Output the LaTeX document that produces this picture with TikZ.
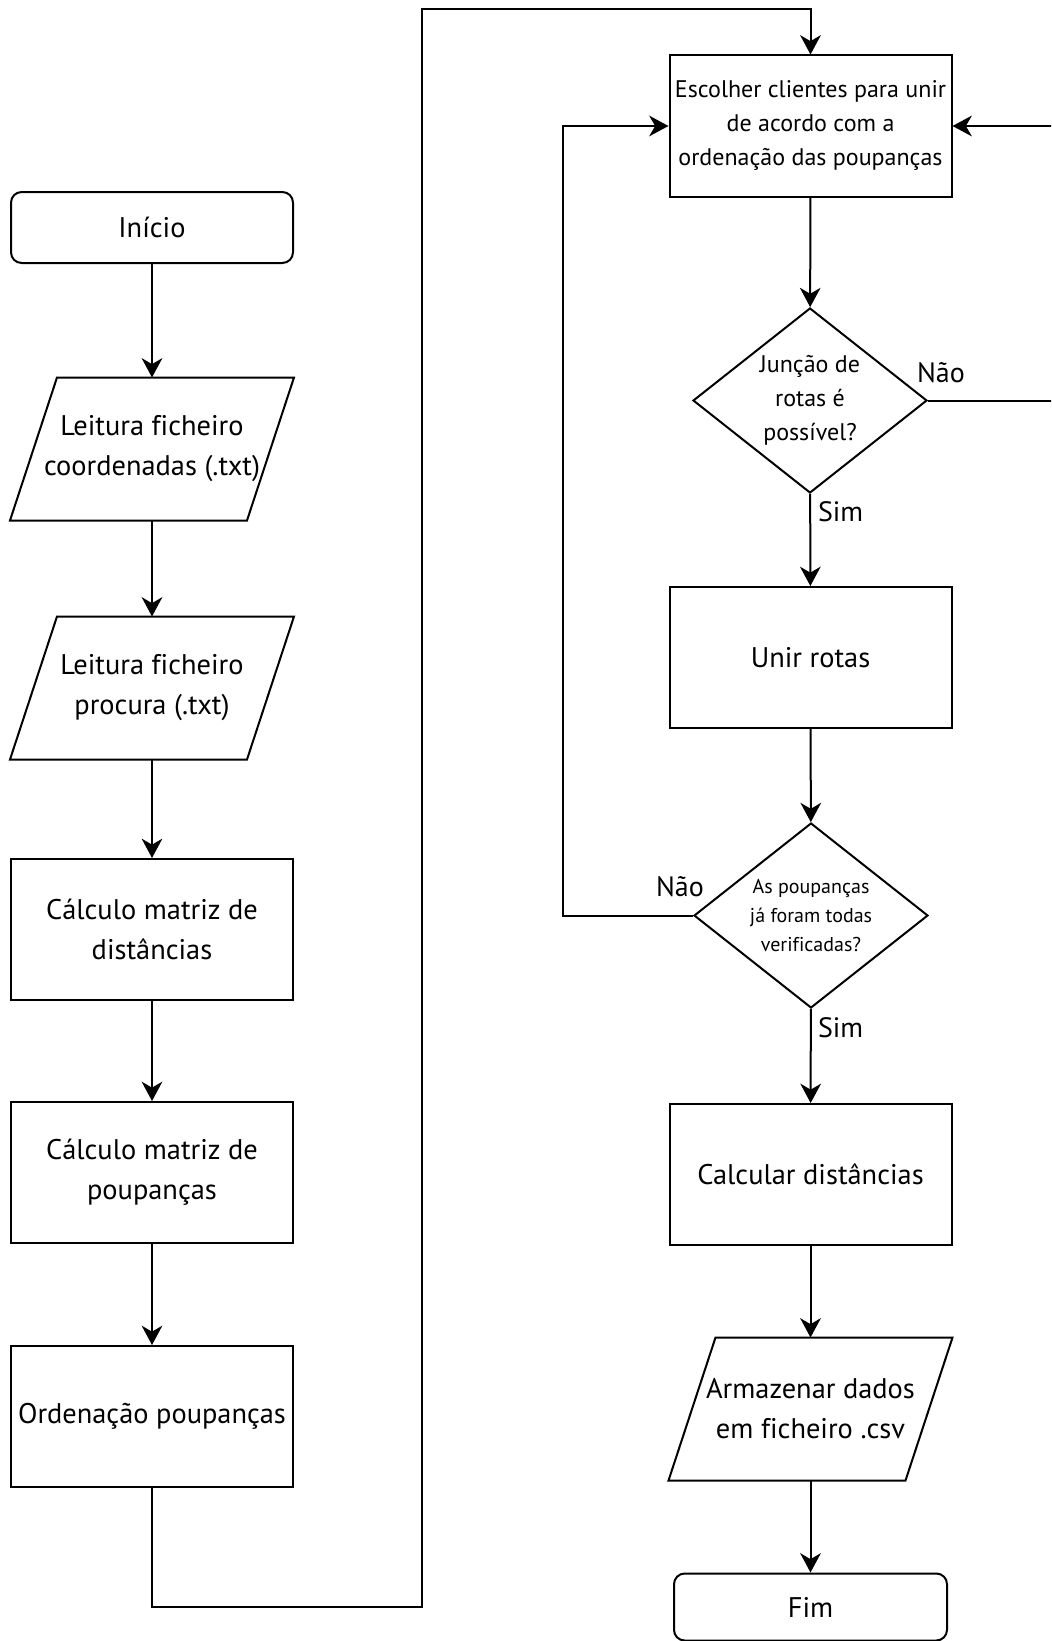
\documentclass[tikz,border=0pt]{standalone}
\usepackage{fontspec}
\setmainfont[Ligatures=NoCommon]{PT Sans}
\usetikzlibrary{shapes.geometric,arrows.meta}

\tikzset{every picture/.style={line width=1.5pt}}
\tikzset{
  procbox/.style={draw, rectangle, minimum width=211.5pt, minimum height=105.75pt, inner sep=1pt, align=center, font=\fontsize{21.3}{30}\selectfont},
  termbox/.style={draw, rectangle, rounded corners=8pt, minimum width=211.5pt, minimum height=53.25pt, align=center, font=\fontsize{21.3}{30}\selectfont},
  iobox/.style={rectangle, minimum width=211.5pt, minimum height=105.75pt, inner sep=0pt, align=center, font=\fontsize{21.3}{30}\selectfont},
  decbox/.style={draw, diamond, aspect=1.26, minimum width=175.5pt, minimum height=138.75pt, inner sep=0pt, align=center},
  answer/.style={font=\fontsize{21}{24}\selectfont, inner sep=0pt},
  flowline/.style={-{Stealth[length=14.5pt,width=15.5pt,inset=4.5pt]}},
}

\begin{document}
\begin{tikzpicture}[x=0.75pt,y=0.75pt,yscale=-1,xscale=1]
\useasboundingbox (0,0) rectangle (1051,1641);
\clip (0,0) rectangle (1051,1641);

%Shape: Rounded Rect [id:inicio]
\draw (152,227.5) node [termbox] (inicio) {Início};
%Shape: Parallelogram [id:leitA]
\draw (152,449) node [iobox] (leitA) {Leitura ficheiro\\coordenadas (.txt)};
\draw ([xshift=35.25pt]leitA.north west) -- (leitA.north east) -- ([xshift=-35.25pt]leitA.south east) -- (leitA.south west) -- cycle ;
%Shape: Parallelogram [id:leitB]
\draw (152,688) node [iobox] (leitB) {Leitura ficheiro\\procura (.txt)};
\draw ([xshift=35.25pt]leitB.north west) -- (leitB.north east) -- ([xshift=-35.25pt]leitB.south east) -- (leitB.south west) -- cycle ;
%Shape: Rectangle [id:distm]
\draw (152,929.5) node [procbox] (distm) {Cálculo matriz de\\distâncias};
%Shape: Rectangle [id:poupm]
\draw (152,1172.5) node [procbox] (poupm) {Cálculo matriz de\\poupanças};
%Shape: Rectangle [id:orden]
\draw (152,1416.5) node [procbox] (orden) {Ordenação poupanças};

%Shape: Rectangle [id:escolher]
\draw (810.5,126) node [procbox, font=\fontsize{18}{25.5}\selectfont] (escolher) {Escolher clientes para unir\\de acordo com a\\ordenação das poupanças};
%Shape: Diamond [id:junc]
\draw (810,400.5) node [decbox, font=\fontsize{18}{25.5}\selectfont] (junc) {Junção de\\rotas é\\possível?};
%Shape: Rectangle [id:unir]
\draw (810.5,657.5) node [procbox] (unir) {Unir rotas};
%Shape: Diamond [id:verif]
\draw (811,915.5) node [decbox, font=\fontsize{15}{22}\selectfont] (verif) {As poupanças\\já foram todas\\verificadas?};
%Shape: Rectangle [id:calc]
\draw (810.5,1174.5) node [procbox] (calc) {Calcular distâncias};
%Shape: Parallelogram [id:armaz]
\draw (810.5,1409) node [iobox] (armaz) {Armazenar dados\\em ficheiro .csv};
\draw ([xshift=35.25pt]armaz.north west) -- (armaz.north east) -- ([xshift=-35.25pt]armaz.south east) -- (armaz.south west) -- cycle ;
%Shape: Rounded Rect [id:fim]
\draw (810.5,1607) node [termbox, minimum width=204.75pt, minimum height=50.25pt] (fim) {Fim};

\coordinate (bloop) at (422,1607);
\coordinate (tloop) at (422,9);
\coordinate (rloop) at (1060,126);
\coordinate (lloop) at (563,915.5);

%Straight Lines
\draw [flowline] (inicio) -- (leitA) ;
\draw [flowline] (leitA) -- (leitB) ;
\draw [flowline] (leitB) -- (distm) ;
\draw [flowline] (distm) -- (poupm) ;
\draw [flowline] (poupm) -- (orden) ;
%Elbow Lines
\draw [flowline] (orden.south) |- (bloop) -- (tloop) -| (escolher.north) ;

%Straight Lines
\draw [flowline] (escolher) -- (junc) ;
\draw [flowline] (junc) -- (unir) ;
\draw [flowline] (unir) -- (verif) ;
\draw [flowline] (verif) -- (calc) ;
\draw [flowline] (calc) -- (armaz) ;
\draw [flowline] (armaz) -- (fim) ;
%Elbow Lines
\draw [flowline] (junc.east) -| (rloop) -- (escolher.east) ;
\draw [flowline] (verif.west) -- (lloop) |- (escolher.west) ;

% Text Node
\draw (941,373) node [answer] (naoA) {Não};
% Text Node
\draw (817,512) node [answer, anchor=west] (simA) {Sim};
% Text Node
\draw (680,887) node [answer] (naoB) {Não};
% Text Node
\draw (817,1028) node [answer, anchor=west] (simB) {Sim};

\end{tikzpicture}
\end{document}
